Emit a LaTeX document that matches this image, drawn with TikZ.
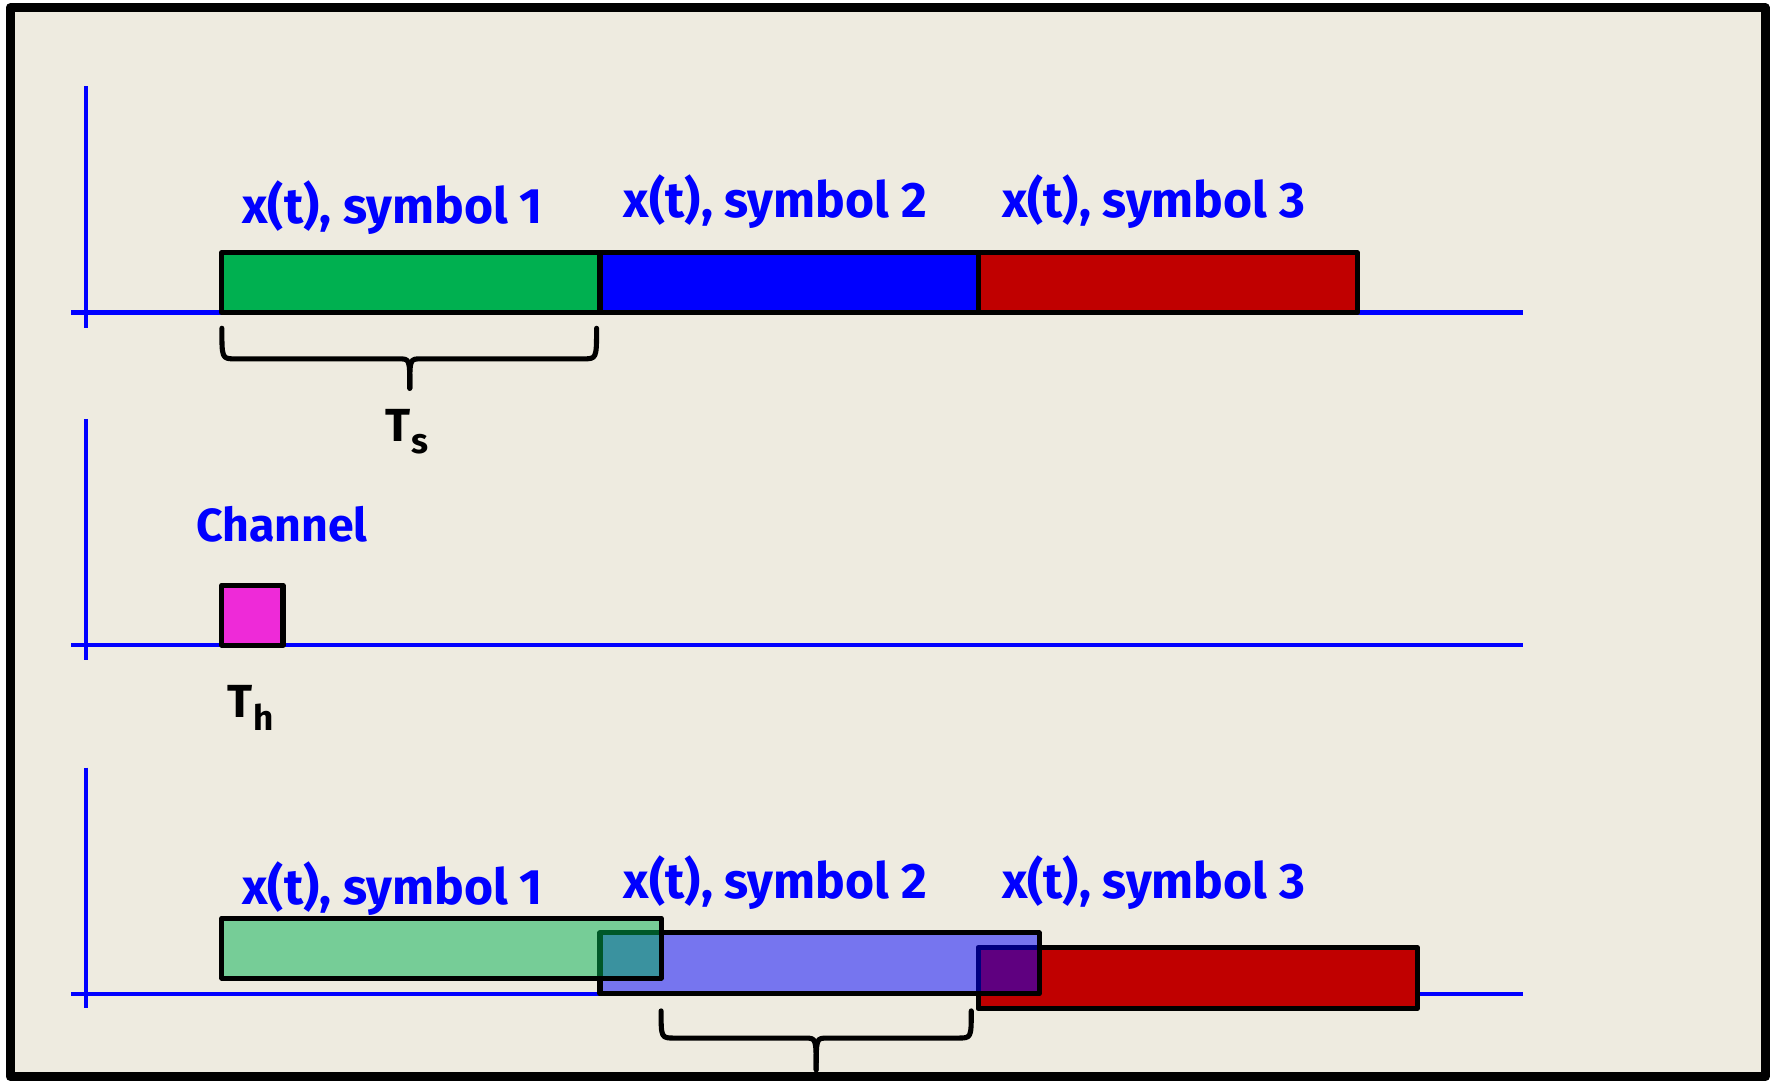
\documentclass[tikz,border=0pt]{standalone}
\usepackage{fontspec}
\setmainfont{Fira Sans}
\definecolor{bg}{HTML}{EEEBE0}
\definecolor{symgreen}{HTML}{00B050}
\definecolor{symblue}{HTML}{0000FF}
\definecolor{symred}{HTML}{C00000}
\definecolor{chmag}{HTML}{EE2AD8}
\definecolor{axblue}{HTML}{0000FF}
\tikzset{
  frame/.style={line width=8pt, draw=black, fill=bg, line join=round},
  axis/.style={line width=3.8pt, draw=axblue},
  symbox/.style={line width=4.5pt, draw=black, line join=round},
  ghost/.style={symbox, fill opacity=0.5},
  bracepath/.style={line width=4.5pt, draw=black, line cap=round, line join=round},
  lbl/.style={anchor=base west, inner sep=0pt, text=axblue, font=\fontsize{44}{44}\selectfont\bfseries},
  chlbl/.style={lbl, font=\fontsize{41}{41}\selectfont\bfseries},
  tlbl/.style={anchor=base west, inner sep=0pt, text=black, font=\fontsize{41}{41}\selectfont\bfseries}
}
\newcommand{\subsc}[1]{\raisebox{-11pt}{\fontsize{31}{31}\selectfont #1}}
\begin{document}
\begin{tikzpicture}[x=1pt,y=-1pt]
\useasboundingbox (0,0) rectangle (1568,955);
\fill[white] (0,0) rectangle (1568,955);
\draw[frame] (9,7) rectangle (1559.5,951);

% ---------- top panel ----------
\draw[axis] (76,76) -- (76,290);
\draw[axis] (63,276) -- (1345,276);
\draw[symbox, fill=symgreen] (196,223) rectangle (530,276);
\draw[symbox, fill=symblue]  (530,223) rectangle (864,276);
\draw[symbox, fill=symred]   (864,223) rectangle (1199,276);
\node[lbl] (l1) at (214,197) {x(t), symbol 1};
\node[lbl] (l2) at (551,192) {x(t), symbol 2};
\node[lbl] (l3) at (885,192) {x(t), symbol 3};
\draw[bracepath] (196,290) .. controls (196,317) .. (208,317) -- (352,317)
   .. controls (362,317) .. (362,343);
\draw[bracepath] (527,290) .. controls (527,317) .. (515,317) -- (372,317)
   .. controls (362,317) .. (362,343);
\node[tlbl] (ts) at (340,390) {T\kern1pt\subsc{s}};

% ---------- middle panel ----------
\draw[axis] (76,370) -- (76,583);
\draw[axis] (63,570) -- (1345,570);
\draw[symbox, fill=chmag] (196,517) rectangle (250,570);
\node[chlbl] (ch) at (173,478) {Channel};
\node[tlbl] (th) at (201,634) {T\kern1pt\subsc{h}};

% ---------- bottom panel ----------
\draw[axis] (76,678) -- (76,890);
\draw[axis] (63,878) -- (1345,878);
\draw[symbox, fill=symred] (864,837) rectangle (1252,891);
\draw[ghost, fill=symblue] (530,824) rectangle (918,878);
\draw[ghost, fill=symgreen] (196,811) rectangle (584,864);
\node[lbl] (m1) at (214,799) {x(t), symbol 1};
\node[lbl] (m2) at (551,794) {x(t), symbol 2};
\node[lbl] (m3) at (885,794) {x(t), symbol 3};
\draw[bracepath] (584,893) .. controls (584,917) .. (596,917) -- (711,917)
   .. controls (721,917) .. (721,945);
\draw[bracepath] (858,893) .. controls (858,917) .. (846,917) -- (731,917)
   .. controls (721,917) .. (721,945);
\end{tikzpicture}
\end{document}
